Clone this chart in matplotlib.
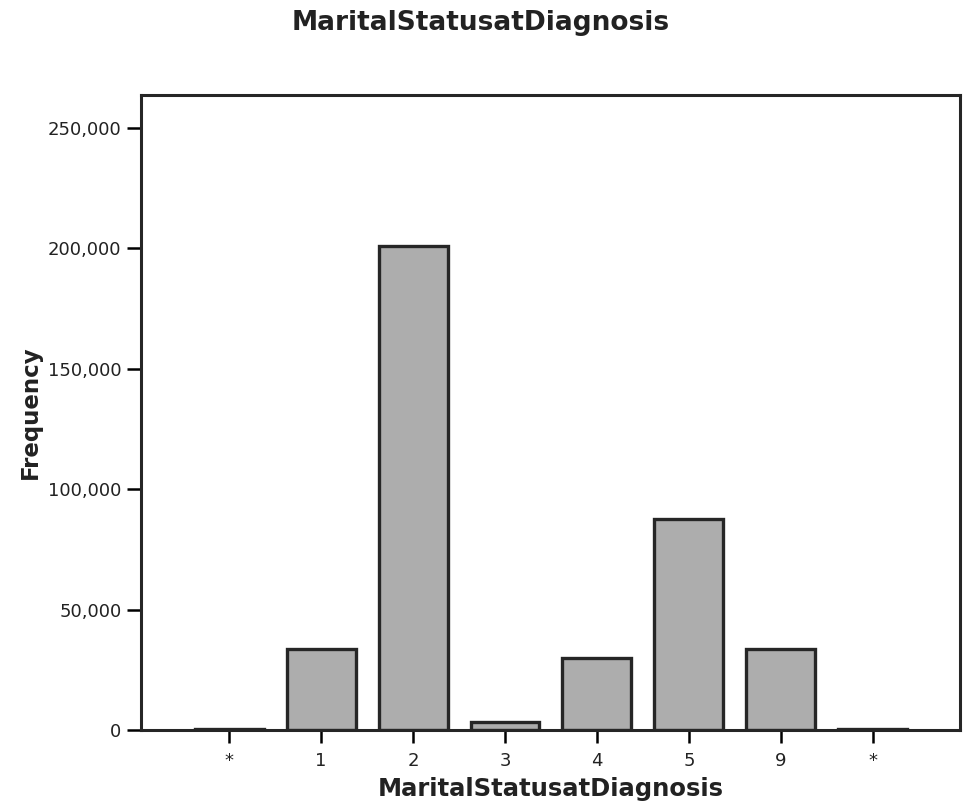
import numpy as np
from matplotlib import pyplot as plt
from matplotlib.ticker import FuncFormatter

# Category labels and counts
categories = ["*", "1", "2", "3", "4", "5", "9", "*"]
counts = [300, 33600, 201000, 3300, 29900, 87600, 33600, 300]

plt.rcParams['font.family'] = ['DejaVu Sans']

fig = plt.figure(figsize=(9.67, 8.08), dpi=100)
ax = fig.add_axes([0.1458, 0.0965, 0.8470, 0.7859])

x = np.arange(len(categories))
ax.bar(x, counts, width=0.75, color='#adadad', edgecolor='#262626', linewidth=2.4)

ax.set_xlim(-0.96, 7.95)
ax.set_ylim(0, 263500)
ax.set_xticks(x)
ax.set_xticklabels(categories, fontsize=13, color='#222222')
ax.set_yticks([0, 50000, 100000, 150000, 200000, 250000])
ax.yaxis.set_major_formatter(FuncFormatter(lambda v, p: f"{int(v):,}"))
ax.tick_params(axis='y', labelsize=13, labelcolor='#222222', length=10, width=1.8, direction='out', pad=4)
ax.tick_params(axis='x', length=9, width=1.8, direction='out', pad=7)

for s in ax.spines.values():
    s.set_linewidth(2.2)
    s.set_color('#262626')

ax.set_xlabel("MaritalStatusatDiagnosis", fontsize=17.5, fontweight='bold', color='#222222', labelpad=5)
ax.set_ylabel("Frequency", fontsize=16.5, fontweight='bold', color='#222222', labelpad=4)
fig.text(0.497, 0.972, "MaritalStatusatDiagnosis", ha='center', va='center',
         fontsize=19, fontweight='bold', color='#222222')

fig.savefig("out.png", dpi=100)
